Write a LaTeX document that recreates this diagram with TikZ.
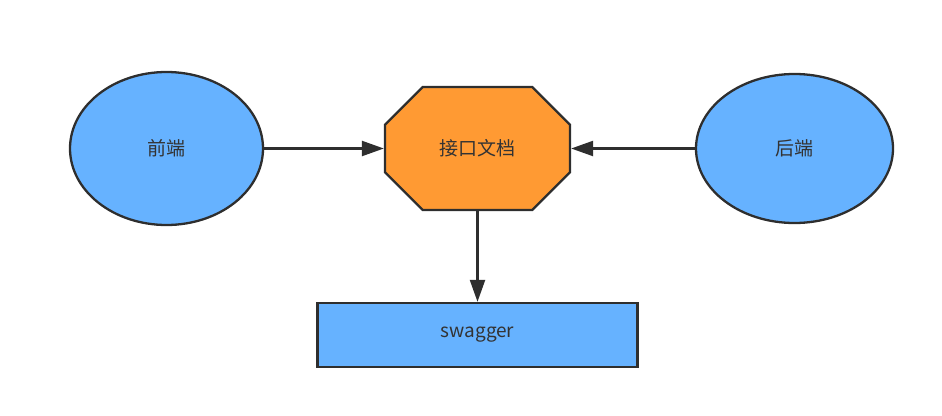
\documentclass[tikz,border=0pt]{standalone}
\usepackage{fontspec}
\newfontfamily\cjk{Noto Sans CJK SC}
\usetikzlibrary{arrows.meta,shapes.geometric,shapes.misc}
\definecolor{fillblue}{HTML}{66B2FF}
\definecolor{fillorange}{HTML}{FF9A33}
\definecolor{edgegray}{HTML}{2E2E2E}
\definecolor{txtgray}{HTML}{333333}
\begin{document}
\begin{tikzpicture}[x=1pt,y=-1pt,
  shapebase/.style={draw=edgegray, line width=2.3pt, text=txtgray, font=\cjk\fontsize{19}{22}\selectfont, inner sep=0pt},
  ellnode/.style={shapebase, ellipse, fill=fillblue},
  octnode/.style={shapebase, chamfered rectangle, chamfered rectangle xsep=29pt, chamfered rectangle ysep=29pt, fill=fillorange},
  boxnode/.style={shapebase, rectangle, fill=fillblue},
  conn/.style={draw=edgegray, line width=2.3pt, -{Triangle[length=22pt,width=15pt]}}]
\useasboundingbox (0,0) rectangle (942,415);
\node[ellnode, minimum width=193pt, minimum height=153pt] (fe) at (166.5,148.5) {前端};
\node[ellnode, minimum width=197pt, minimum height=149pt] (be) at (794.5,148.5) {后端};
\node[octnode, minimum width=185pt, minimum height=123pt] (doc) at (477.5,148.5) {接口文档};
\node[boxnode, minimum width=320pt, minimum height=64pt] (sw) at (477.5,335) {swagger};
\draw[conn] (fe.east) -- (doc.west);
\draw[conn] (be.west) -- (doc.east);
\draw[conn] (doc.south) -- (sw.north);
\end{tikzpicture}
\end{document}
